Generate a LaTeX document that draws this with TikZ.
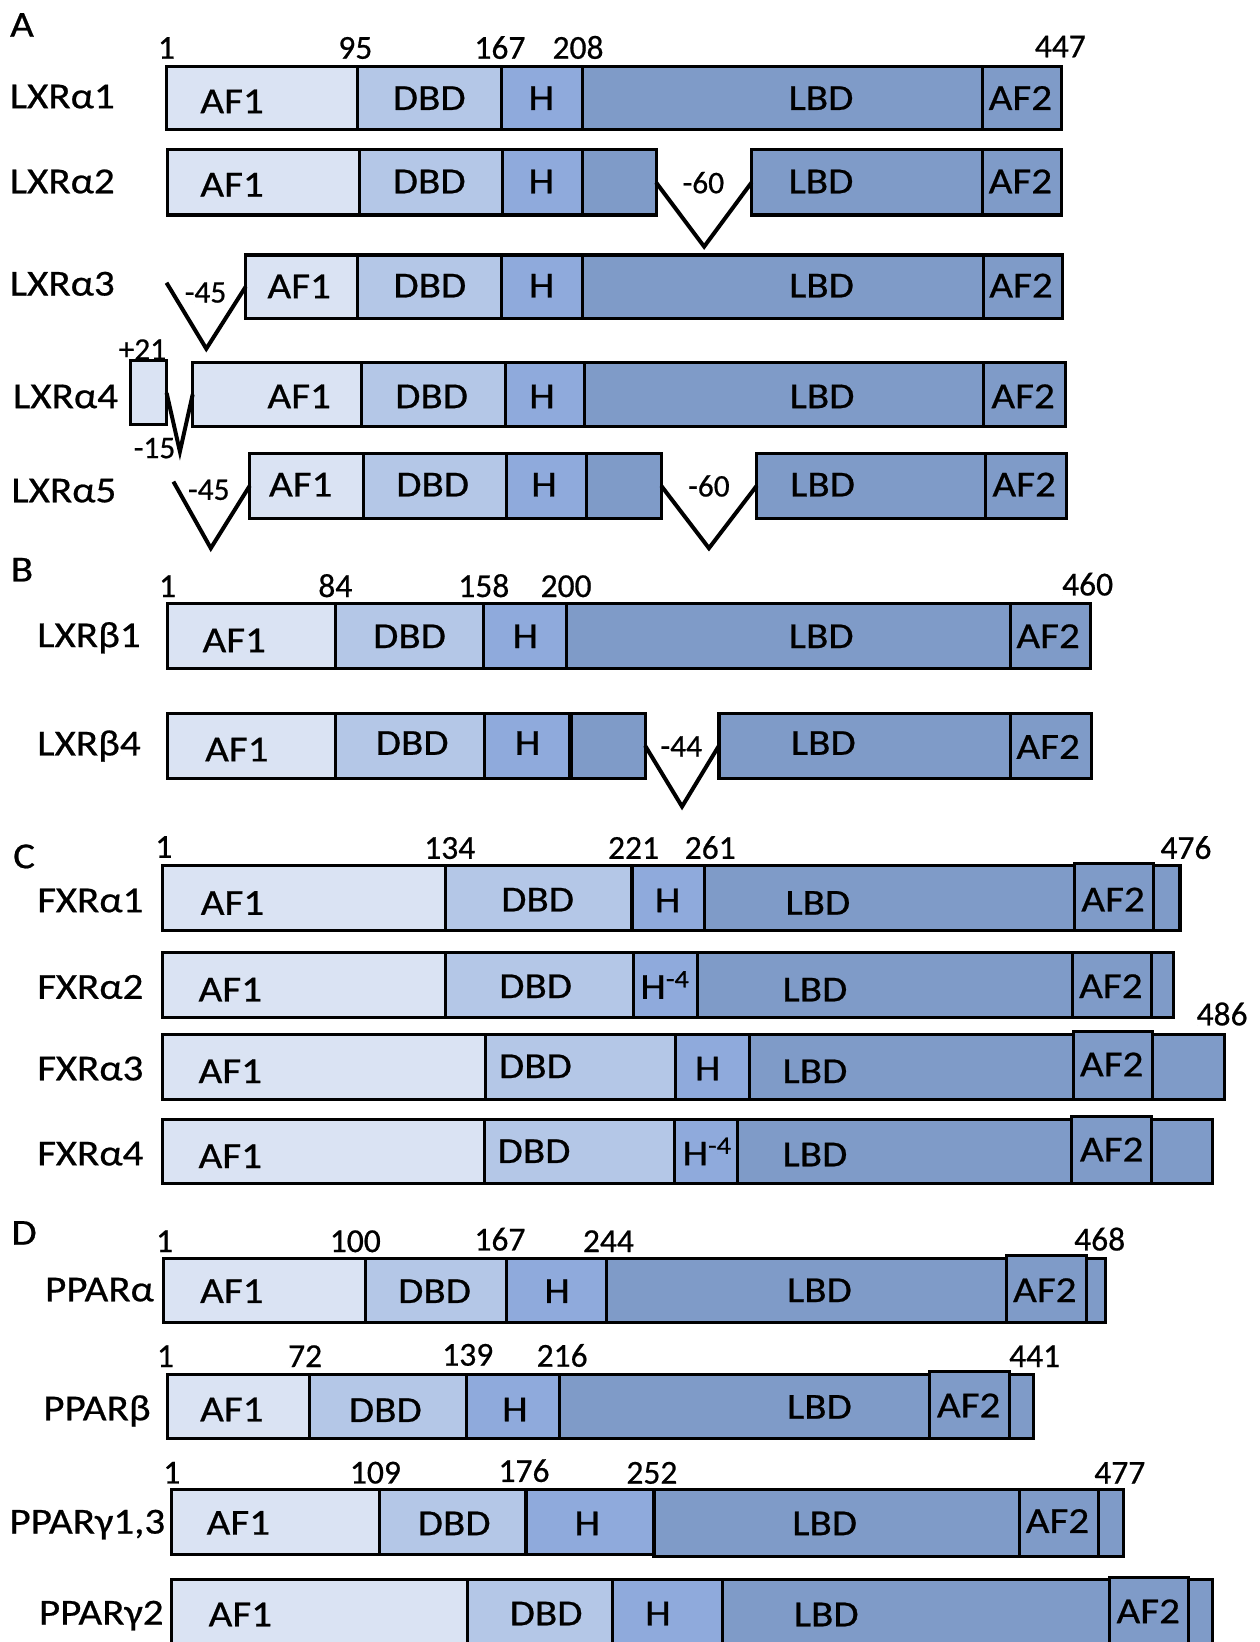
\documentclass[tikz,border=0pt]{standalone}
\usepackage{fontspec}
\setmainfont{Carlito}[FakeBold=0.6]
\newfontfamily\wf{Carlito}[FakeStretch=1.12,FakeBold=0.6]
\definecolor{cAF}{HTML}{DAE3F3}
\definecolor{cDBD}{HTML}{B4C7E7}
\definecolor{cH}{HTML}{8FAADC}
\definecolor{cLBD}{HTML}{7F9BC8}
\tikzset{
 seg/.style={draw=black, line width=2.9pt, inner sep=0pt, outer sep=0pt},
 lab/.style={font=\wf\fontsize{35}{40}\selectfont, inner sep=0pt, text height=22.1pt, text depth=0pt},
 num/.style={font=\fontsize{32}{36}\selectfont, inner sep=0pt, text height=20.2pt, text depth=0pt},
 spl/.style={font=\fontsize{30}{33}\selectfont, inner sep=0pt, text height=19pt, text depth=0pt},
 vline/.style={draw=black, line width=3.8pt, line join=miter},
}
\newcommand{\sg}[6]{\node[seg,fill=#6,minimum width={#3-#2},minimum height={#5-#4}] (#1) at ({(#2+#3)/2},{(#4+#5)/2}) {};}
\newcommand{\five}[9]{\sg{#1af}{#4}{#5}{#2}{#3}{cAF}\sg{#1dbd}{#5}{#6}{#2}{#3}{cDBD}\sg{#1h}{#6}{#7}{#2}{#3}{cH}\sg{#1lbd}{#7}{#8}{#2}{#3}{cLBD}\sg{#1afz}{#8}{#9}{#2}{#3}{cLBD}}
\newcommand{\hsup}{H\raisebox{11pt}{\fontsize{24}{26}\selectfont -4}}
\begin{document}
\begin{tikzpicture}[x=1pt,y=-1pt]
\useasboundingbox (0,0) rectangle (1203,1568);
\clip (0,0) rectangle (1203,1568);
\fill[white] (0,0) rectangle (1203,1568);

% ================= A =================
\node[lab] (secA) at (21,24) {A};
% LXRa1
\five{a1}{63.7}{124.1}{159.3}{341}{479.3}{556}{938}{1013.7}
\node[lab] (a1n) at (59.5,92.3) {LXRα1};
\node[num] (a1p1) at (159,46) {1};
\node[num] (a1p2) at (339.3,46) {95};
\node[num] (a1p3) at (477.4,46) {167};
\node[num] (a1p4) at (552,46) {208};
\node[num] (a1p5) at (1012.5,44.6) {447};
\node[lab] (a1t1) at (221.6,97) {AF1};
\node[lab] (a1t2) at (409.9,93.9) {DBD};
\node[lab] (a1t3) at (516.9,93.9) {H};
\node[lab] (a1t4) at (784,93.9) {LBD};
\node[lab] (a1t5) at (974.4,93.9) {AF2};
% LXRa2
\sg{a2af}{160.3}{343.2}{143.2}{205.3}{cAF}
\sg{a2dbd}{343.2}{480}{143.2}{205.3}{cDBD}
\sg{a2h}{480}{556}{143.2}{205.3}{cH}
\sg{a2p}{556}{626.5}{143.2}{205.3}{cLBD}
\sg{a2lbd}{717.7}{938}{143.2}{205.3}{cLBD}
\sg{a2afz}{938}{1013.7}{143.2}{205.3}{cLBD}
\coordinate (a2v) at (672.4,235.5);
\draw[vline] (a2p.east) -- (a2v) -- (a2lbd.west);
\node[lab] (a2n) at (59.5,173.5) {LXRα2};
\node[spl] (a2s) at (671.7,175) {-60};
\node[lab] (a2t1) at (221.6,176.6) {AF1};
\node[lab] (a2t2) at (409.9,173.5) {DBD};
\node[lab] (a2t3) at (516.9,173.5) {H};
\node[lab] (a2t4) at (784,173.5) {LBD};
\node[lab] (a2t5) at (974.4,173.5) {AF2};
% LXRa3
\five{a3}{243.5}{303.8}{234.7}{341}{479.3}{556}{938.9}{1015}
\coordinate (a3s) at (159,270);
\coordinate (a3v) at (197,333);
\draw[vline] (a3s) -- (a3v) -- (a3af.west);
\node[lab] (a3n) at (59.5,271.2) {LXRα3};
\node[spl] (a3l) at (196.3,279.4) {-45};
\node[lab] (a3t1) at (285.7,273.7) {AF1};
\node[lab] (a3t2) at (410.5,273) {DBD};
\node[lab] (a3t3) at (517.2,273) {H};
\node[lab] (a3t4) at (784.5,273) {LBD};
\node[lab] (a3t5) at (975,273) {AF2};
% LXRa4
\sg{a4x}{124.6}{159.1}{344.7}{405.8}{cAF}
\five{a4}{345.9}{407.4}{184}{345}{482.4}{557.9}{938.9}{1017.5}
\coordinate (a4v) at (171.8,431.2);
\draw[vline] (a4x.east) -- (a4v) -- (a4af.west);
\node[spl] (a4p) at (136,334) {+21};
\node[spl] (a4m) at (147.6,428) {-15};
\node[lab] (a4n) at (62.6,378.7) {LXRα4};
\node[lab] (a4t1) at (285.7,378.7) {AF1};
\node[lab] (a4t2) at (412.2,378.7) {DBD};
\node[lab] (a4t3) at (517.6,378.7) {H};
\node[lab] (a4t4) at (785,378.7) {LBD};
\node[lab] (a4t5) at (977,378.7) {AF2};
% LXRa5
\sg{a5af}{238.5}{347}{432.8}{494.9}{cAF}
\sg{a5dbd}{347}{483.9}{432.8}{494.9}{cDBD}
\sg{a5h}{483.9}{559.8}{432.8}{494.9}{cH}
\sg{a5p}{559.8}{631.4}{432.8}{494.9}{cLBD}
\sg{a5lbd}{722.6}{940.8}{432.8}{494.9}{cLBD}
\sg{a5afz}{940.8}{1018.7}{432.8}{494.9}{cLBD}
\coordinate (a5s) at (165.6,459.9);
\coordinate (a5v) at (201.3,523.5);
\coordinate (a5w) at (677,523.5);
\draw[vline] (a5s) -- (a5v) -- (a5af.west);
\draw[vline] (a5p.east) -- (a5w) -- (a5lbd.west);
\node[lab] (a5n) at (61,468.6) {LXRα5};
\node[spl] (a5l) at (199.4,467.8) {-45};
\node[spl] (a5r) at (677,464.6) {-60};
\node[lab] (a5t1) at (287.2,463) {AF1};
\node[lab] (a5t2) at (413.2,463) {DBD};
\node[lab] (a5t3) at (519.5,463) {H};
\node[lab] (a5t4) at (785.5,463) {LBD};
\node[lab] (a5t5) at (978,463) {AF2};

% ================= B =================
\node[lab] (secB) at (21,544.2) {B};
\five{b1}{576}{638}{160.3}{320.2}{462}{541.4}{965}{1041.6}
\node[lab] (b1n) at (85,606.9) {LXRβ1};
\node[num] (b1p1) at (160,560) {1};
\node[num] (b1p2) at (320.2,560) {84};
\node[num] (b1p3) at (462,560) {158};
\node[num] (b1p4) at (540.6,560) {200};
\node[num] (b1p5) at (1038.6,558.5) {460};
\node[lab] (b1t1) at (223.7,611.7) {AF1};
\node[lab] (b1t2) at (391.1,607.8) {DBD};
\node[lab] (b1t3) at (501.7,607.8) {H};
\node[lab] (b1t4) at (784.2,607.8) {LBD};
\node[lab] (b1t5) at (1000.9,607.8) {AF2};
% LXRb4
\sg{b4af}{160.3}{320.5}{681}{743}{cAF}
\sg{b4dbd}{320.5}{462.5}{681}{743}{cDBD}
\sg{b4h}{462.5}{544.5}{681}{743}{cH}
\sg{b4p}{544.5}{616}{681}{743}{cLBD}
\sg{b4lbd}{686.6}{965}{681}{743}{cLBD}
\sg{b4afz}{965}{1042.4}{681}{743}{cLBD}
\draw[line width=4.5pt] (b4p.north west) -- (b4p.south west);
\coordinate (b4v) at (651.3,770.2);
\draw[vline] (b4p.east) -- (b4v) -- (b4lbd.west);
\node[lab] (b4n) at (85,710.3) {LXRβ4};
\node[spl] (b4s) at (650.6,712.9) {-44};
\node[lab] (b4t1) at (226.2,716) {AF1};
\node[lab] (b4t2) at (393.6,709.7) {DBD};
\node[lab] (b4t3) at (503.8,709.7) {H};
\node[lab] (b4t4) at (786.2,709.7) {LBD};
\node[lab] (b4t5) at (1000.9,713.5) {AF2};

% ================= C =================
\node[lab] (secC) at (23,818) {C};
% FXRa1
\sg{c1af}{155.3}{425.6}{826.8}{888.5}{cAF}
\sg{c1dbd}{425.6}{603.5}{826.8}{888.5}{cDBD}
\sg{c1h}{603.5}{672.4}{826.8}{888.5}{cH}
\sg{c1lbd}{672.4}{1026.4}{826.8}{888.5}{cLBD}
\sg{c1tl}{1101.9}{1126.8}{826.8}{888.5}{cLBD}
\sg{c1afz}{1026.4}{1101.9}{824.5}{888.5}{cLBD}
\node[lab] (c1n) at (86.3,860) {FXRα1};
\node[num] (c1p1) at (156.5,809) {1};
\node[num] (c1p2) at (429.5,810) {134};
\node[num] (c1p3) at (605,810) {221};
\node[num] (c1p4) at (678.2,810) {261};
\node[num] (c1p5) at (1132.5,810) {476};
\node[lab] (c1t1) at (222,862.5) {AF1};
\node[lab] (c1t2) at (513.4,859.3) {DBD};
\node[lab] (c1t3) at (637.6,860) {H};
\node[lab] (c1t4) at (781,862.4) {LBD};
\node[lab] (c1t5) at (1062.9,859.3) {AF2};
% FXRa2
\sg{c2af}{155.3}{425.3}{909.6}{971.3}{cAF}
\sg{c2dbd}{425.3}{604.7}{909.6}{971.3}{cDBD}
\sg{c2h}{604.7}{665.9}{909.6}{971.3}{cH}
\sg{c2lbd}{665.9}{1024}{909.6}{971.3}{cLBD}
\sg{c2tl}{1100}{1121}{909.6}{971.3}{cLBD}
\sg{c2afz}{1024}{1100}{909.6}{971.3}{cLBD}
\node[lab] (c2n) at (86.3,942.7) {FXRα2};
\node[lab] (c2t1) at (219.9,945.2) {AF1};
\node[lab] (c2t2) at (511.5,942) {DBD};
\node[lab] (c2t3) at (634.6,942.7) {\hsup};
\node[lab] (c2t4) at (778.2,945.2) {LBD};
\node[lab] (c2t5) at (1060.8,942) {AF2};
% FXRa3
\sg{c3af}{155.3}{464}{987.5}{1049.6}{cAF}
\sg{c3dbd}{464}{644.8}{987.5}{1049.6}{cDBD}
\sg{c3h}{644.8}{715.4}{987.5}{1049.6}{cH}
\sg{c3lbd}{715.4}{1025.2}{987.5}{1049.6}{cLBD}
\sg{c3tl}{1101}{1169}{987.5}{1049.6}{cLBD}
\sg{c3afz}{1025.2}{1101}{984.6}{1049.6}{cLBD}
\node[num] (c3p) at (1167,969) {486};
\node[lab] (c3n) at (86.3,1020.6) {FXRα3};
\node[lab] (c3t1) at (219.9,1023.2) {AF1};
\node[lab] (c3t2) at (511.3,1018.4) {DBD};
\node[lab] (c3t3) at (675.7,1020.6) {H};
\node[lab] (c3t4) at (778.2,1023.2) {LBD};
\node[lab] (c3t5) at (1061.6,1016.8) {AF2};
% FXRa4
\sg{c4af}{155.3}{462.8}{1068.7}{1129.8}{cAF}
\sg{c4dbd}{462.8}{643.7}{1068.7}{1129.8}{cDBD}
\sg{c4h}{643.7}{704.2}{1068.7}{1129.8}{cH}
\sg{c4lbd}{704.2}{1023.3}{1068.7}{1129.8}{cLBD}
\sg{c4tl}{1100}{1157.4}{1068.7}{1129.8}{cLBD}
\sg{c4afz}{1023.3}{1100}{1066}{1129.8}{cLBD}
\node[lab] (c4n) at (86.3,1101.8) {FXRα4};
\node[lab] (c4t1) at (219.9,1104.3) {AF1};
\node[lab] (c4t2) at (510,1099.5) {DBD};
\node[lab] (c4t3) at (674.9,1101.8) {\hsup};
\node[lab] (c4t4) at (778.2,1102.7) {LBD};
\node[lab] (c4t5) at (1061.6,1098) {AF2};

% ================= D =================
\node[lab] (secD) at (23,1177.5) {D};
% PPARa
\sg{d1af}{156.5}{349}{1201.4}{1262.8}{cAF}
\sg{d1dbd}{349}{483.9}{1201.4}{1262.8}{cDBD}
\sg{d1h}{483.9}{579}{1201.4}{1262.8}{cH}
\sg{d1lbd}{579}{961.1}{1201.4}{1262.8}{cLBD}
\sg{d1tl}{1037.8}{1055.9}{1201.4}{1262.8}{cLBD}
\sg{d1afz}{961.1}{1037.8}{1199.2}{1262.8}{cLBD}
\node[lab] (d1n) at (95,1231.6) {PPARα};
\node[num] (d1p1) at (157.2,1185.5) {1};
\node[num] (d1p2) at (339.3,1185.5) {100};
\node[num] (d1p3) at (477.4,1184) {167};
\node[num] (d1p4) at (581,1185.5) {244};
\node[num] (d1p5) at (1050.1,1184) {468};
\node[lab] (d1t1) at (221.4,1233.2) {AF1};
\node[lab] (d1t2) at (415,1233.2) {DBD};
\node[lab] (d1t3) at (532,1233.2) {H};
\node[lab] (d1t4) at (782.5,1232.3) {LBD};
\node[lab] (d1t5) at (997.7,1232.3) {AF2};
% PPARb
\sg{d2af}{160.3}{295.2}{1312.2}{1373.2}{cAF}
\sg{d2dbd}{295.2}{445.6}{1312.2}{1373.2}{cDBD}
\sg{d2h}{445.6}{534.1}{1312.2}{1373.2}{cH}
\sg{d2lbd}{534.1}{887.5}{1312.2}{1373.2}{cLBD}
\sg{d2tl}{963.8}{986.8}{1312.2}{1373.2}{cLBD}
\sg{d2afz}{887.5}{963.8}{1310}{1373.2}{cLBD}
\node[lab] (d2n) at (92.6,1345.2) {PPARβ};
\node[num] (d2p1) at (158,1295.3) {1};
\node[num] (d2p2) at (291.4,1295.3) {72};
\node[num] (d2p3) at (446.7,1294) {139};
\node[num] (d2p4) at (536.8,1295) {216};
\node[num] (d2p5) at (988,1295.3) {441};
\node[lab] (d2t1) at (221.4,1346.2) {AF1};
\node[lab] (d2t2) at (368,1346.8) {DBD};
\node[lab] (d2t3) at (491.7,1346.2) {H};
\node[lab] (d2t4) at (782.5,1343.7) {LBD};
\node[lab] (d2t5) at (925,1342.4) {AF2};
% PPARg1,3
\sg{d3af}{164.1}{362.3}{1422.6}{1484}{cAF}
\sg{d3dbd}{362.3}{502.3}{1422.6}{1484}{cDBD}
\sg{d3h}{502.3}{624.5}{1422.6}{1484}{cH}
\sg{d3lbd}{624.5}{973.5}{1422.6}{1486}{cLBD}
\sg{d3tl}{1049.4}{1073.1}{1422.6}{1486}{cLBD}
\sg{d3afz}{973.5}{1049.4}{1422.6}{1486}{cLBD}
\node[lab] (d3n) at (83.4,1453.4) {PPARγ1,3};
\node[num] (d3p1) at (164.1,1406.5) {1};
\node[num] (d3p2) at (358.5,1406.5) {109};
\node[num] (d3p3) at (500.4,1405) {176};
\node[num] (d3p4) at (622.5,1406.7) {252};
\node[num] (d3p5) at (1069.3,1406.7) {477};
\node[lab] (d3t1) at (227.6,1454.4) {AF1};
\node[lab] (d3t2) at (433.7,1454.9) {DBD};
\node[lab] (d3t3) at (560.8,1454.9) {H};
\node[lab] (d3t4) at (787.5,1454.9) {LBD};
\node[lab] (d3t5) at (1009.8,1452.8) {AF2};
% PPARg2
\sg{d4af}{164.1}{446}{1508.5}{1575}{cAF}
\sg{d4dbd}{446}{584.7}{1508.5}{1575}{cDBD}
\sg{d4h}{584.7}{689.7}{1508.5}{1575}{cH}
\sg{d4lbd}{689.7}{1059.7}{1508.5}{1575}{cLBD}
\sg{d4tl}{1135.2}{1158.2}{1508.5}{1575}{cLBD}
\sg{d4afz}{1059.7}{1135.2}{1506.3}{1575}{cLBD}
\node[lab] (d4n) at (96.7,1540.3) {PPARγ2};
\node[lab] (d4t1) at (229.5,1541.9) {AF1};
\node[lab] (d4t2) at (521.5,1541) {DBD};
\node[lab] (d4t3) at (628.3,1541) {H};
\node[lab] (d4t4) at (789,1541.9) {LBD};
\node[lab] (d4t5) at (1096.5,1539) {AF2};
\end{tikzpicture}
\end{document}
